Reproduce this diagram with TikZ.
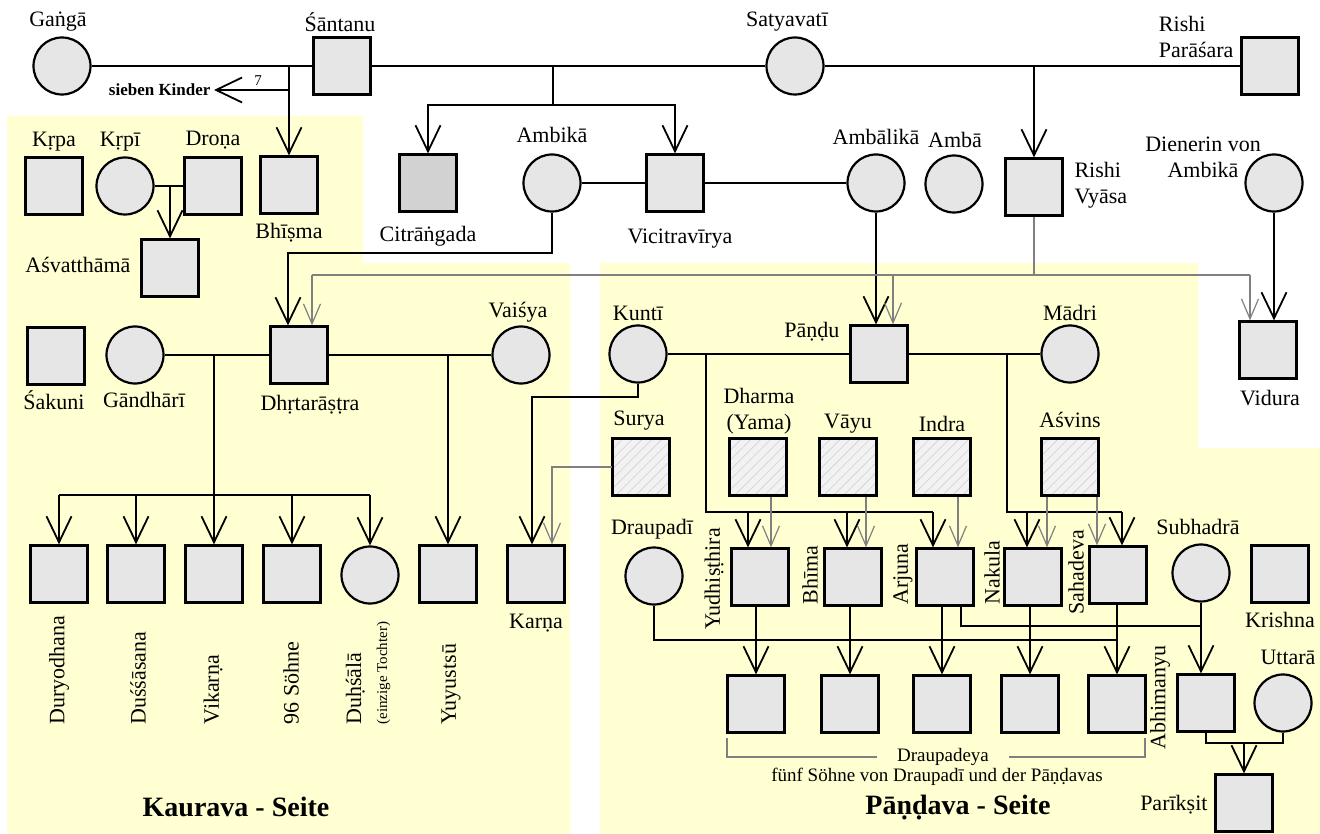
\documentclass[tikz,border=0pt]{standalone}
\usepackage{fontspec}
\setmainfont{Liberation Serif}
\usetikzlibrary{arrows.meta,patterns.meta}
\definecolor{MBGelb}{HTML}{FFFFD2}
\definecolor{MBGrau}{HTML}{E6E6E6}
\definecolor{MBDunkel}{HTML}{D2D2D2}
\definecolor{MBLinie}{HTML}{808080}
\definecolor{MBSchraffur}{HTML}{F2F2F2}

\begin{document}
\begin{tikzpicture}[x=1pt,y=-1pt,font=\fontsize{22}{26}\selectfont,
  person/.style={draw,line width=2.2pt,fill=MBGrau,minimum width=57pt,minimum height=57pt,inner sep=0pt},
  frau/.style={person,circle},
  gott/.style={draw,line width=2.2pt,minimum width=57pt,minimum height=57pt,inner sep=0pt,preaction={fill=MBSchraffur},pattern={Lines[angle=45,distance=7pt,line width=0.8pt]},pattern color=black!16},
  ehe/.style={line width=1.8pt},
  kind/.style={ehe,-{Straight Barb[length=26pt,width=25pt]}},
  grau/.style={MBLinie,line width=1.2pt},
  goetter/.style={grau,-{Straight Barb[length=20pt,width=17pt]}},
  klein/.style={font=\fontsize{19}{22}\selectfont},
  seite/.style={font=\fontsize{28}{30}\selectfont\bfseries},
  senkrecht/.style={rotate=90,anchor=west,align=left}]
\useasboundingbox (0,0) rectangle (1320,834);
% Hintergrund
\fill[MBGelb] (7,116) -- (363,116) -- (363,263) -- (570,263) -- (570,834) -- (7,834) -- cycle;
\fill[MBGelb] (600,263) -- (1198,263) -- (1198,448) -- (1320,448) -- (1320,834) -- (600,834) -- cycle;

% erste Generation
\node[frau] (ganga) at (62,66) {};
\node[person] (santanu) at (342,66) {};
\node[frau] (satyavati) at (795,66) {};
\node[person] (parasara) at (1270,66) {};
\node (tganga) at (58,22) {Gaṅgā};
\node (tsantanu) at (340,22) {Śāntanu};
\node (tsatyavati) at (787,22) {Satyavatī};
\node[anchor=east,align=left] (tparasara) at (1237,37) {Rishi\\Parāśara};
\node[anchor=east,font=\fontsize{17}{19}\selectfont\bfseries] (kinder) at (214,90) {sieben Kinder};
\node[font=\fontsize{15}{16}\selectfont] (t7) at (258,81) {7};

% zweite Generation
\node[person] (krpa) at (54,186) {};
\node[frau] (krpi) at (125,186) {};
\node[person] (drona) at (213,186) {};
\node[person] (bhisma) at (289,185) {};
\node[person,fill=MBDunkel] (citrangada) at (428,183) {};
\node[frau] (ambika) at (552,183) {};
\node[person] (vicitra) at (675,183) {};
\node[frau] (ambalika) at (876,183) {};
\node[frau] (amba) at (954,184) {};
\node[person] (vyasa) at (1034,187) {};
\node[frau] (dienerin) at (1274,183) {};
\node[person] (asvatthama) at (170,268) {};
\node (tkrpa) at (54,142) {Kṛpa};
\node (tkrpi) at (120,142) {Kṛpī};
\node (tdrona) at (213,140) {Droṇa};
\node (tbhisma) at (289,233) {Bhīṣma};
\node (tcitrangada) at (428,236) {Citrāṅgada};
\node (tambika) at (552,135) {Ambikā};
\node (tvicitra) at (680,239) {Vicitravīrya};
\node (tambalika) at (876,137) {Ambālikā};
\node (tamba) at (955,140) {Ambā};
\node[anchor=west,align=left] (tvyasa) at (1071,185) {Rishi\\Vyāsa};
\node[align=center] (tdienerin) at (1203,157) {Dienerin von\\Ambikā};
\node[anchor=east] (tasvatthama) at (134,265) {Aśvatthāmā};

% dritte Generation
\node[person] (sakuni) at (56,356) {};
\node[frau] (gandhari) at (135,355) {};
\node[person] (dhrta) at (299,355) {};
\node[frau] (vaisya) at (521,355) {};
\node[frau] (kunti) at (638,354) {};
\node[person] (pandu) at (879,354) {};
\node[frau] (madri) at (1070,354) {};
\node[person] (vidura) at (1268,350) {};
\node (tsakuni) at (54,400) {Śakuni};
\node (tgandhari) at (144,400) {Gāndhārī};
\node (tdhrta) at (310,405) {Dhṛtarāṣṭra};
\node (tvaisya) at (518,312) {Vaiśya};
\node (tkunti) at (638,313) {Kuntī};
\node[anchor=east] (tpandu) at (843,332) {Pāṇḍu};
\node (tmadri) at (1070,313) {Mādri};
\node (tvidura) at (1270,398) {Vidura};

% Götter
\node[gott] (surya) at (641,467) {};
\node[gott] (dharma) at (758,467) {};
\node[gott] (vayu) at (848,467) {};
\node[gott] (indra) at (942,467) {};
\node[gott] (asvins) at (1070,467) {};
\node (tsurya) at (639,421) {Surya};
\node[align=center] (tdharma) at (759,411) {Dharma\\(Yama)};
\node (tvayu) at (848,424) {Vāyu};
\node (tindra) at (942,424) {Indra};
\node (tasvins) at (1070,420) {Aśvins};

% vierte Generation
\node[person] (duryodhana) at (59,574) {};
\node[person] (dussasana) at (136,574) {};
\node[person] (vikarna) at (214,574) {};
\node[person] (sohne) at (292,574) {};
\node[frau] (duhsala) at (370,575) {};
\node[person] (yuyutsu) at (448,574) {};
\node[person] (karna) at (536,574) {};
\node[frau] (draupadi) at (654,576) {};
\node[person] (yudhi) at (760,577) {};
\node[person] (bhima) at (853,577) {};
\node[person] (arjuna) at (945,577) {};
\node[person] (nakula) at (1033,577) {};
\node[person] (sahadeva) at (1118,575) {};
\node[frau] (subhadra) at (1201,573) {};
\node[person] (krishna) at (1280,574) {};
\node[senkrecht] (tduryodhana) at (59,728) {Duryodhana};
\node[senkrecht] (tdussasana) at (138,728) {Duśśāsana};
\node[senkrecht] (tvikarna) at (213,728) {Vikarṇa};
\node[senkrecht] (tsohne) at (291,728) {96 Söhne};
\node[senkrecht] (tduhsala) at (368,728) {Duḥśālā\\{\fontsize{15}{16}\selectfont(einzige Tochter)}};
\node[senkrecht] (tyuyutsu) at (451,728) {Yuyustsū};
\node (tkarna) at (536,623) {Karṇa};
\node (tdraupadi) at (652,529) {Draupadī};
\node[senkrecht] (tyudhi) at (714,633) {Yudhiṣṭhira};
\node[senkrecht] (tbhima) at (810,608) {Bhīma};
\node[senkrecht] (tarjuna) at (903,608) {Arjuna};
\node[senkrecht] (tnakula) at (992,608) {Nakula};
\node[senkrecht] (tsahadeva) at (1076,618) {Sahadeva};
\node (tsubhadra) at (1198,527) {Subhadrā};
\node (tkrishna) at (1280,620) {Krishna};

% fünfte Generation
\foreach \n/\x in {1/756,2/850,3/942,4/1030,5/1117}
  \node[person] (dp\n) at (\x,704) {};
\node[person] (abhimanyu) at (1206,703) {};
\node[frau] (uttara) at (1283,703) {};
\node[person] (pariksit) at (1244,803) {};
\node[senkrecht] (tabhimanyu) at (1160,753) {Abhimanyu};
\node (tuttara) at (1288,657) {Uttarā};
\node[anchor=east] (tpariksit) at (1211,805) {Parīkṣit};
\node[klein,inner xsep=20pt] (draupadeya) at (943,757) {Draupadeya};
\node[klein] (tfuenf) at (937,777) {fünf Söhne von Draupadī und der Pāṇḍavas};
\node[seite] (kaurava) at (236,807) {Kaurava - Seite};
\node[seite] (pandava) at (958,808) {Pāṇḍava - Seite};

% Ehen und Kinder oben
\draw[ehe] (ganga) -- (santanu);
\draw[ehe] (santanu) -- (satyavati);
\draw[ehe] (satyavati) -- (parasara);
\coordinate (gs) at (289,66);
\coordinate (g7) at (289,90);
\draw[kind] (gs) -- (bhisma.north);
\draw[kind] (g7) -- (kinder.east);
\coordinate (ss) at (553,66);
\coordinate (ssbar) at (553,105);
\draw[ehe] (ss) -- (ssbar);
\draw[kind] (ssbar) -| (citrangada.north);
\draw[kind] (ssbar) -| (vicitra.north);
\coordinate (sp) at (1034,66);
\draw[kind] (sp) -- (vyasa.north);
\draw[ehe] (krpi) -- (drona);
\coordinate (kd) at (170,186);
\draw[kind] (kd) -- (asvatthama.north);
\draw[ehe] (ambika) -- (vicitra);
\draw[ehe] (vicitra) -- (ambalika);
\coordinate (ad) at (288,253);
\draw[kind] (ambika.south) |- (ad) -- (ad |- dhrta.north);
\draw[kind] (ambalika.south) -- (ambalika.south |- pandu.north);
\draw[kind] (dienerin.south) -- (dienerin.south |- vidura.north);

% Vyasa (grau)
\coordinate (vy) at (1034,275);
\coordinate (vyl) at (312,275);
\coordinate (vyp) at (893,275);
\coordinate (vyr) at (1250,275);
\draw[grau] (vyasa.south) -- (vy);
\draw[grau] (vyl) -- (vyr);
\draw[goetter] (vyl) -- (vyl |- dhrta.north);
\draw[goetter] (vyp) -- (vyp |- pandu.north);
\draw[goetter] (vyr) -- (vyr |- vidura.north);

% Kaurava
\draw[ehe] (gandhari) -- (dhrta);
\draw[ehe] (dhrta) -- (vaisya);
\coordinate (gd) at (214,355);
\coordinate (gdbar) at (214,495);
\draw[ehe] (gd) -- (gdbar);
\draw[ehe] (duryodhana.north |- gdbar) -- (duhsala.north |- gdbar);
\foreach \k in {duryodhana,dussasana,vikarna,sohne,duhsala}
  \draw[kind] (\k.north |- gdbar) -- (\k.north);
\coordinate (dv) at (448,355);
\draw[kind] (dv) -- (yuyutsu.north);
\coordinate (kk) at (532,397);
\draw[kind] (kunti.south) |- (kk) -- (kk |- karna.north);
\coordinate (sk) at (552,467);
\draw[goetter] (surya.west) -- (sk) -- (sk |- karna.north);

% Pandava
\draw[ehe] (kunti) -- (pandu);
\draw[ehe] (pandu) -- (madri);
\coordinate (kp) at (706,354);
\coordinate (kpbar) at (706,512);
\draw[ehe] (kp) |- ([xshift=-12pt]arjuna.north |- kpbar);
\foreach \k/\d in {yudhi/-12,bhima/-6,arjuna/-12}
  \draw[kind] ([xshift=\d pt]\k.north |- kpbar) -- ([xshift=\d pt]\k.north);
\coordinate (pm) at (1007,354);
\coordinate (pmbar) at (1007,512);
\draw[ehe] (pm) |- ([xshift=4pt]sahadeva.north |- pmbar);
\foreach \k/\d in {nakula/-6,sahadeva/4}
  \draw[kind] ([xshift=\d pt]\k.north |- pmbar) -- ([xshift=\d pt]\k.north);
\foreach \g/\k/\d in {dharma/yudhi/13,vayu/bhima/18,indra/arjuna/16,asvins/nakula/-23,asvins/sahadeva/27}
  \draw[goetter] ([xshift=\d pt]\g.south) -- ([xshift=\d pt]\g.south |- \k.north);

% Draupadeya und Abhimanyu
\foreach \v/\k in {yudhi/dp1,bhima/dp2,arjuna/dp3,nakula/dp4,sahadeva/dp5}
  \draw[kind] (\k.north |- \v.south) -- (\k.north);
\coordinate (dr) at (1117,640);
\draw[ehe] (draupadi.south) |- (dr);
\coordinate (as) at (1201,626);
\draw[ehe] ([xshift=16pt]arjuna.south) |- (as);
\draw[kind] (subhadra.south) -- (subhadra.south |- abhimanyu.north);
\draw[ehe] (abhimanyu.south) -- ++(0,10) -| (uttara.south);
\coordinate (au) at ([yshift=-10pt]abhimanyu.south -| pariksit.north);
\draw[kind] (au) -- (pariksit.north);
\draw[grau] (727,738) |- (draupadeya.west);
\draw[grau] (draupadeya.east) -| (1145,738);
\end{tikzpicture}
\end{document}
